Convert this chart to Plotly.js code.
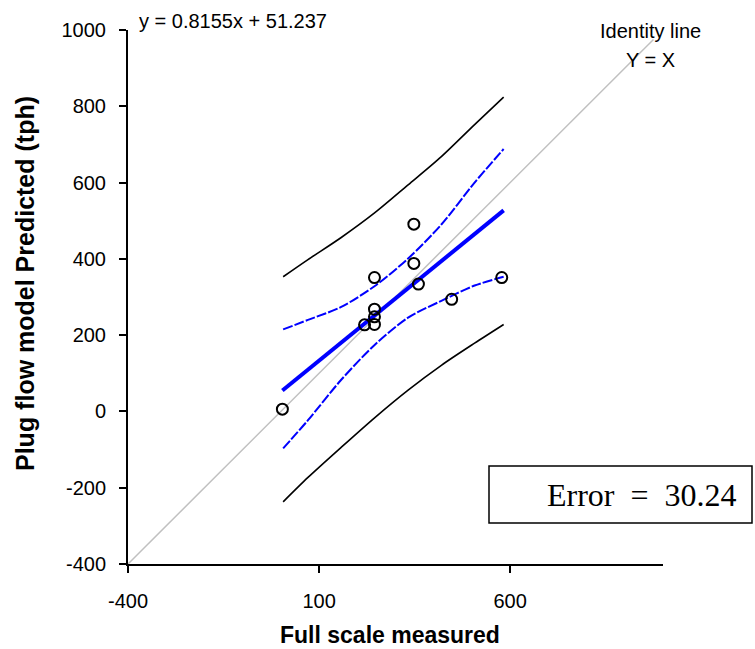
<!DOCTYPE html>
<html>
<head>
<meta charset="utf-8">
<script src="https://cdn.plot.ly/plotly-3.0.1.min.js"></script>
<style>html,body{margin:0;padding:0;background:#fff;}#chart{width:755px;height:649px;}</style>
</head>
<body>
<div id="chart"></div>
<script>
// Measured vs predicted points
var measured  = [348, 348, 245, 360, 578, 447, 245, 245, 219, 245, 4];
var predicted = [491, 388, 351, 334, 351, 294, 268, 248, 227, 228, 6];

// Regression line (y = 0.8155x + 51.237), end points
var fitX = [4, 583];
var fitY = [55, 527];

// Identity line Y = X
var identityX = [-400, 975];
var identityY = [-400, 975];

// Confidence (blue) and prediction (black) bands
var bandX      = [6, 71, 158, 246, 333, 420, 507, 583];
var outerUpper = [353, 398, 456, 521, 594, 668, 752, 824];
var innerUpper = [215, 240, 274, 329, 401, 490, 600, 688];
var innerLower = [-97, -23, 83, 175, 246, 290, 330, 353];
var outerLower = [-237, -173, -94, -16, 56, 121, 179, 228];

// Axis ticks
var xTicks = [-400, 100, 600];
var yTicks = [-400, -200, 0, 200, 400, 600, 800, 1000];

var W = 755, H = 649;
var L = 128, R = 663, T = 30, B = 564;
function px(x){ return (x - L) / (R - L); }
function py(y){ return (B - y) / (B - T); }

var traces = [
  {x: identityX, y: identityY, mode: 'lines', line: {color: '#c0c0c0', width: 1.5}, hoverinfo: 'skip'},
  {x: bandX, y: outerUpper, mode: 'lines', line: {color: '#000000', width: 1.6, shape: 'spline', smoothing: 0.8}},
  {x: bandX, y: outerLower, mode: 'lines', line: {color: '#000000', width: 1.6, shape: 'spline', smoothing: 0.8}},
  {x: bandX, y: innerUpper, mode: 'lines', line: {color: '#0000ff', width: 2, shape: 'spline', smoothing: 0.8, dash: '10px,2px'}},
  {x: bandX, y: innerLower, mode: 'lines', line: {color: '#0000ff', width: 2, shape: 'spline', smoothing: 0.8, dash: '10px,2px'}},
  {x: fitX, y: fitY, mode: 'lines', line: {color: '#0000ff', width: 4}},
  {x: measured, y: predicted, mode: 'markers',
   marker: {symbol: 'circle-open', size: 11, color: '#000000', line: {width: 2, color: '#000000'}}}
];

var tickFont = {family: 'Liberation Sans, Arial, sans-serif', size: 20, color: '#000'};

var layout = {
  width: W, height: H,
  margin: {l: L, r: W - R, t: T, b: H - B, pad: 0},
  paper_bgcolor: '#fff', plot_bgcolor: '#fff',
  showlegend: false,
  xaxis: {
    range: [-400, 1000], tickvals: xTicks, ticktext: xTicks.map(String),
    showgrid: false, zeroline: false, showline: true, linecolor: '#000', linewidth: 2,
    ticks: 'outside', ticklen: 7, tickwidth: 2, tickcolor: '#000',
    tickfont: tickFont, ticklabelstandoff: 11
  },
  yaxis: {
    range: [-400, 1000], tickvals: yTicks, ticktext: yTicks.map(String),
    showgrid: false, zeroline: false, showline: true, linecolor: '#000', linewidth: 2,
    ticks: 'outside', ticklen: 7, tickwidth: 2, tickcolor: '#000',
    tickfont: tickFont, ticklabelstandoff: 9
  },
  shapes: [
    {type: 'rect', xref: 'paper', yref: 'paper',
     x0: px(489), x1: px(752), y0: py(523), y1: py(466),
     line: {color: '#000', width: 1.5}, fillcolor: 'rgba(0,0,0,0)'}
  ],
  annotations: [
    {text: 'y = 0.8155x + 51.237', xref: 'paper', yref: 'paper', x: px(137), y: py(21),
     xanchor: 'left', yanchor: 'middle', showarrow: false,
     font: {family: 'Liberation Sans, Arial, sans-serif', size: 20, color: '#000'}},
    {text: 'Identity line', xref: 'paper', yref: 'paper', x: px(650), y: py(31),
     xanchor: 'center', yanchor: 'middle', showarrow: false,
     font: {family: 'Liberation Sans, Arial, sans-serif', size: 20, color: '#000'}},
    {text: 'Y = X', xref: 'paper', yref: 'paper', x: px(650), y: py(60),
     xanchor: 'center', yanchor: 'middle', showarrow: false,
     font: {family: 'Liberation Sans, Arial, sans-serif', size: 20, color: '#000'}},
    {text: 'Error\u00a0\u00a0=\u00a0\u00a030.24', xref: 'paper', yref: 'paper', x: px(642), y: py(495),
     xanchor: 'center', yanchor: 'middle', showarrow: false,
     font: {family: 'Liberation Serif, Times New Roman, serif', size: 32, color: '#000'}},
    {text: '<b>Full scale measured</b>', xref: 'paper', yref: 'paper', x: px(390), y: py(635),
     xanchor: 'center', yanchor: 'middle', showarrow: false,
     font: {family: 'Liberation Sans, Arial, sans-serif', size: 23, color: '#000'}},
    {text: '<b>Plug flow model Predicted (tph)</b>', xref: 'paper', yref: 'paper', x: px(25), y: py(284),
     xanchor: 'center', yanchor: 'middle', textangle: -90, showarrow: false,
     font: {family: 'Liberation Sans, Arial, sans-serif', size: 25, color: '#000'}}
  ]
};

Plotly.newPlot('chart', traces, layout, {displayModeBar: false, staticPlot: true});
</script>
</body>
</html>
